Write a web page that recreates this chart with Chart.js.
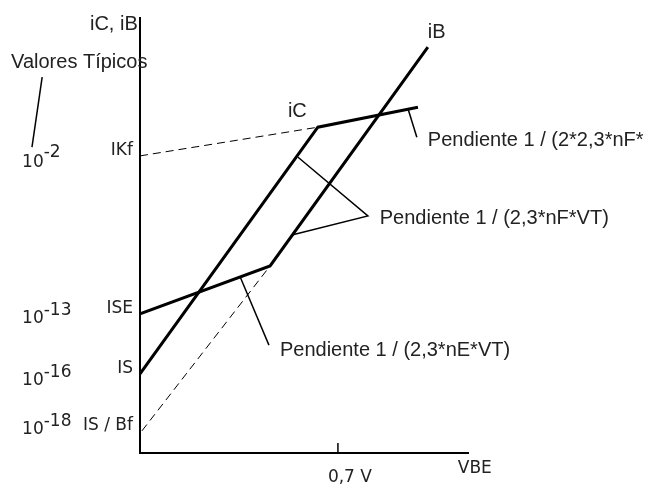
<!DOCTYPE html>
<html lang="es">
<head>
    <meta charset="UTF-8">
    <title>Curvas de Gummel</title>
    <script src="https://cdn.jsdelivr.net/npm/chart.js"></script>
    <style>
        body {
            margin: 0;
            background: #fff;
        }
    </style>
</head>
<body>
    <canvas id="gummel" width="653" height="485"></canvas>

    <script>
        // VBE en voltios; corrientes en escala logarítmica esquemática (0..100)
        const icVbe = [0, 0.629, 0.983];
        const icLog = [18.2, 74.9, 79.5];
        const ibVbe = [0, 0.460, 1.018];
        const ibLog = [32.0, 43.0, 93.3];

        // extrapolaciones punteadas hacia el eje
        const ikfVbe = [0, 0.629];
        const ikfLog = [68.3, 74.9];
        const isbfVbe = [0.007, 0.460];
        const isbfLog = [5.1, 43.0];

        // marcas de pendiente y flecha de "Valores Típicos"
        const slopeHighVbe = [0.947, 0.979];
        const slopeHighLog = [79.3, 72.6];
        const slopeNfVbe = [0.559, 0.806, 0.537];
        const slopeNfLog = [68.0, 54.5, 50.1];
        const slopeNeVbe = [0.354, 0.456];
        const slopeNeLog = [40.5, 24.8];
        const typicalVbe = [-0.346, -0.382];
        const typicalLog = [86.4, 70.3];

        // etiquetas de los ejes
        const yTickValues = [68.3, 32.0, 18.2, 5.1];
        const yTickLabels = ['IKf', 'ISE', 'IS', 'IS / Bf'];
        const typicalExponents = ['-2', '-13', '-16', '-18'];
        const xTickValues = [0.7];
        const xTickLabels = ['0,7 V'];

        const gothic = '20px "Liberation Sans", Arial, sans-serif';
        const plain = '17px "DejaVu Sans", Verdana, sans-serif';
        const textColor = '#222';

        function toPoints(xs, ys) {
            return xs.map((v, i) => ({ x: v, y: ys[i] }));
        }

        function lineSet(xs, ys, width, dash, clip) {
            return {
                data: toPoints(xs, ys),
                showLine: true,
                borderColor: '#000',
                borderWidth: width,
                borderDash: dash || [],
                borderJoinStyle: 'miter',
                pointRadius: 0,
                clip: clip === false ? false : undefined
            };
        }

        // textos sueltos del diagrama y la marca de 0,7 V
        const textPlugin = {
            id: 'gummelText',
            afterDraw(chart) {
                const { ctx, scales: { x, y } } = chart;
                ctx.save();
                ctx.fillStyle = textColor;
                ctx.textBaseline = 'alphabetic';
                ctx.textAlign = 'left';

                const put = (text, vx, vy, font) => {
                    ctx.font = font;
                    ctx.fillText(text, x.getPixelForValue(vx), y.getPixelForValue(vy));
                };

                put('iC, iB', -0.177, 97.2, gothic);
                put('Valores Típicos', -0.456, 88.5, gothic);
                put('iC', 0.523, 77.2, gothic);
                put('iB', 1.018, 95.4, gothic);
                put('Pendiente 1 / (2*2,3*nF*', 1.018, 70.6, gothic);
                put('Pendiente 1 / (2,3*nF*VT)', 0.848, 52.6, gothic);
                put('Pendiente 1 / (2,3*nE*VT)', 0.495, 22.3, gothic);
                put('VBE', 1.124, -4.6, plain);

                // potencias de diez típicas
                const typicalRows = [65.7, 29.9, 15.6, 4.4];
                ctx.font = plain;
                typicalRows.forEach((row, i) => {
                    const px = x.getPixelForValue(-0.417);
                    const py = y.getPixelForValue(row);
                    ctx.fillText('10', px, py);
                    const w = ctx.measureText('10').width;
                    ctx.fillText(typicalExponents[i], px + w, py - (i === 0 ? 10 : 8));
                });

                // marca del eje en 0,7 V
                ctx.strokeStyle = '#000';
                ctx.lineWidth = 1.5;
                xTickValues.forEach(v => {
                    const px = x.getPixelForValue(v);
                    ctx.beginPath();
                    ctx.moveTo(px, y.bottom);
                    ctx.lineTo(px, y.bottom - 10);
                    ctx.stroke();
                });
                ctx.restore();
            }
        };

        new Chart(document.getElementById('gummel'), {
            type: 'scatter',
            data: {
                datasets: [
                    lineSet(ikfVbe, ikfLog, 1, [8, 5]),
                    lineSet(isbfVbe, isbfLog, 1, [8, 5]),
                    lineSet(slopeHighVbe, slopeHighLog, 1.5),
                    lineSet(slopeNfVbe, slopeNfLog, 1.5),
                    lineSet(slopeNeVbe, slopeNeLog, 1.5),
                    lineSet(typicalVbe, typicalLog, 1.5, null, false),
                    lineSet(icVbe, icLog, 3),
                    lineSet(ibVbe, ibLog, 3)
                ]
            },
            options: {
                responsive: false,
                animation: false,
                layout: {
                    padding: { top: 18, right: 185, left: 0, bottom: 0 }
                },
                plugins: {
                    legend: { display: false },
                    tooltip: { enabled: false }
                },
                scales: {
                    x: {
                        type: 'linear',
                        min: 0,
                        max: 1.16,
                        grid: { display: false, drawTicks: false },
                        border: { display: true, color: '#000', width: 2 },
                        afterBuildTicks: axis => {
                            axis.ticks = xTickValues.map(v => ({ value: v }));
                        },
                        afterFit: axis => { axis.height = 32; },
                        ticks: {
                            autoSkip: false,
                            maxRotation: 0,
                            padding: 14,
                            labelOffset: 12,
                            color: textColor,
                            font: { family: '"DejaVu Sans"', size: 17 },
                            callback: (value, i) => xTickLabels[i]
                        }
                    },
                    y: {
                        type: 'linear',
                        min: 0,
                        max: 100,
                        grid: { display: false, drawTicks: false },
                        border: { display: true, color: '#000', width: 2 },
                        afterBuildTicks: axis => {
                            axis.ticks = yTickValues.map(v => ({ value: v }));
                        },
                        afterFit: axis => { axis.width = 140; },
                        ticks: {
                            autoSkip: false,
                            padding: 7,
                            labelOffset: -5,
                            color: textColor,
                            font: { family: '"DejaVu Sans"', size: 17 },
                            callback: (value, i) => yTickLabels[i]
                        }
                    }
                }
            },
            plugins: [textPlugin]
        });
    </script>
</body>
</html>
